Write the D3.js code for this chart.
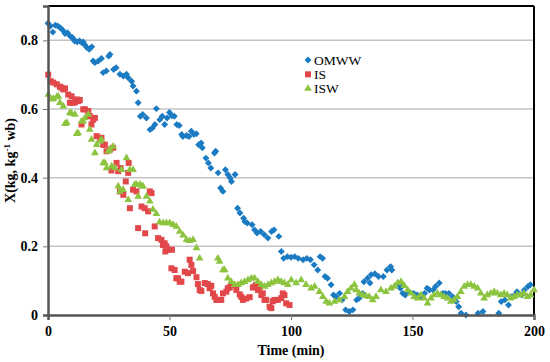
<!DOCTYPE html>
<html>
<head>
<meta charset="utf-8">
<script src="https://cdn.jsdelivr.net/npm/d3@7"></script>
<style>
  body { margin: 0; background: #fff; }
  text { font-family: "Liberation Serif", "Times New Roman", serif; }
  .bold { font-weight: bold; }
</style>
</head>
<body>
<div id="wrapper"></div>
<script>
// 1. Data (time in min, moisture X in kg/kg wb)

const seriesNames = ["OMWW", "IS", "ISW"];
const xTicks = [0, 50, 100, 150, 200];
const yTicks = [0, 0.2, 0.4, 0.6, 0.8];

const omww = [
  [0, .85], [1, .842], [2, .824], [3, .844], [4, .842], [5, .837], [6, .83], [7, .82], [8, .822],
  [9, .813], [10, .808], [10.5, .803], [11, .798], [12, .796], [13, .798], [14, .793], [14.5, .795],
  [15, .788], [16, .779], [17, .774], [18, .781], [18.6, .74], [19.3, .735], [20.7, .74], [22, .747],
  [22.7, .706], [24, .711], [25, .754], [25.5, .759], [27, .715], [28, .72], [29.6, .701], [31, .696],
  [32.3, .701], [33, .691], [34.4, .681], [35, .667], [36.4, .652], [37.1, .618], [38, .579], [39, .584],
  [40.5, .574], [42, .54], [43, .545], [44, .555], [44.6, .601], [46, .569], [47, .579], [48, .555],
  [49, .574], [50, .59], [51, .58], [52, .579], [53, .555], [54, .552], [55, .526], [55.5, .52],
  [57, .523], [58, .52], [59, .535], [60, .526], [61, .528], [62, .496], [63, .501], [63.5, .487],
  [65, .457], [66, .443], [67, .428], [68.5, .472], [69, .477], [70, .414], [71, .37], [72, .36],
  [73, .423], [74, .409], [75, .399], [75.5, .389], [77, .409], [78, .311], [79, .297], [80.5, .282],
  [81, .272], [82, .268], [84, .263], [85, .248], [86, .239], [87.5, .243], [89, .234], [90.5, .224],
  [92, .243], [93, .248], [95, .229], [96, .185], [97, .165], [98.5, .17], [100, .168], [101.5, .17],
  [103, .165], [105, .161], [106.5, .165], [108, .161], [109.5, .146], [111, .131], [112, .17],
  [113, .165], [114, .112], [115, .107], [116.5, .088], [117.5, .058], [118.5, .053], [120, .063],
  [121, .044], [122.5, .015], [124, .01], [125.5, .015], [127, .044], [128, .049], [129.5, .063],
  [130, .097], [131.5, .107], [132.5, .093], [133, .117], [134.5, .12], [136, .112], [138, .112],
  [139.5, .131], [141, .141], [141.5, .131], [144.5, .088], [145, .078], [146, .063], [147, .058],
  [148.5, .068], [150.5, .063], [152, .058], [153.5, .053], [155, .063], [156, .078], [157, .073],
  [158.5, .073], [159.5, .083], [161, .093], [162.5, .063], [163.5, .063], [165, .063], [166.5, .053],
  [168, .039], [169, .024], [170, .005], [172, 0], [177, .005], [179, .01], [185.5, .005],
  [186.5, .039], [188, .044], [189.5, .029], [190.5, .053], [192, .058], [193, .068], [195, .058],
  [196, .073], [197.5, .083], [198.5, .088]
];

const is = [
  [0.1, .70], [1.1, .681], [2.2, .677], [3.6, .672], [4.9, .665], [5.6, .662], [6.3, .657], [7, .66],
  [8.3, .642], [9, .618], [9.7, .637], [10.4, .618], [11.1, .62], [11.8, .628], [12.4, .623],
  [13.1, .626], [13.8, .555], [14.5, .599], [15.2, .599], [16.6, .594], [17.2, .579], [17.9, .555],
  [18.6, .569], [19.3, .574], [20, .521], [21.4, .516], [22, .516], [22.7, .496], [23.4, .496],
  [24.1, .477], [25.5, .482], [26.1, .421], [26.8, .487], [28.2, .443], [28.9, .419], [29.6, .36],
  [29.9, .428], [31, .35], [32, .389], [33, .414], [33.2, .443], [33.7, .311], [35, .365], [36.4, .36],
  [37.1, .253], [38.5, .316], [39.8, .311], [40, .238], [41.2, .302], [41.9, .36], [42.6, .355],
  [43.9, .258], [45.3, .224], [46.7, .219], [47.3, .204], [48, .209], [48.3, .185], [48.7, .2],
  [49.4, .19], [50.8, .136], [51, .19], [52.1, .131], [52.8, .107], [53.5, .107], [54.2, .097],
  [54.9, .097], [56.3, .126], [57.6, .122], [58.3, .161], [59, .146], [59.7, .128], [61.1, .11],
  [61.7, .09], [62.4, .073], [63.1, .07], [64.5, .093], [65.8, .09], [66.5, .078], [67.2, .085],
  [67.9, .063], [68.6, .053], [69.3, .044], [70, .044], [71.3, .044], [72, .063], [73.4, .068],
  [74, .078], [74.8, .08], [75.4, .088], [76.1, .088], [77.5, .073], [78.9, .06], [79.5, .053],
  [80.2, .044], [81.6, .048], [83, .052], [84.3, .08], [85, .083], [85.7, .088], [86.4, .073],
  [87.1, .08], [87.8, .058], [88.4, .063], [89.1, .044], [89.8, .044], [91.2, .024], [91.9, .02],
  [92.5, .04], [93.2, .044], [94.6, .044], [96, .049], [96.6, .063], [97.3, .058], [98, .034],
  [99.4, .029]
];

const isw = [
  [0.1, .642], [1.5, .628], [2.2, .63], [3.6, .635], [4.2, .637], [4.9, .618], [6.3, .608], [7, .557],
  [7.7, .56], [9, .589], [9.7, .587], [11.1, .584], [11.8, .528], [12.4, .53], [13.8, .564],
  [14.5, .564], [15.2, .574], [16.6, .584], [17.2, .54], [17.9, .511], [19.3, .472], [20, .496],
  [21.4, .506], [22, .511], [22.7, .443], [23.4, .443], [24.1, .428], [24.8, .477], [25.5, .482],
  [26.2, .433], [26.8, .491], [27.5, .428], [28.9, .375], [29.6, .36], [30.3, .423], [30.9, .365],
  [32.3, .457], [33, .336], [33.7, .423], [35, .423], [35.7, .38], [36.4, .38], [37.1, .345],
  [37.8, .38], [38.5, .375], [39.1, .375], [40.5, .345], [41.9, .331], [43.2, .307], [44.6, .295],
  [45.9, .27], [47.4, .268], [48.7, .268], [50.1, .268], [51.5, .263], [52.8, .258], [54.2, .243],
  [55.6, .232], [57, .219], [58.3, .216], [59.7, .219], [61.1, .195], [62.4, .165], [69.9, .165],
  [70.6, .156], [72, .131], [72.7, .131], [74, .107], [75.4, .097], [76.8, .088], [78.2, .088],
  [79.5, .093], [80.9, .097], [82.3, .102], [83.7, .107], [85, .107], [86.4, .097], [87.8, .088],
  [89.1, .083], [90.5, .088], [91.9, .093], [93.2, .097], [94.6, .102], [96, .097], [97.3, .093],
  [98.7, .088], [100.1, .102], [102.1, .093], [104.2, .102], [106.2, .088], [108.3, .078],
  [109.7, .083], [111.7, .068], [113.1, .053], [114.5, .039], [115.8, .034], [117.9, .039],
  [119.9, .044], [122, .053], [123.3, .068], [124.7, .078], [126.1, .088], [126.8, .073],
  [128.1, .063], [129.5, .058], [130.9, .055], [132.2, .053], [133.6, .044], [135, .053], [137, .073],
  [139.1, .068], [141.1, .078], [142.5, .083], [143.9, .093], [145.3, .097], [146.6, .085],
  [148, .073], [149.4, .063], [150.7, .053], [152.1, .049], [153.5, .058], [154.8, .049],
  [156.2, .034], [157.6, .049], [158.9, .058], [160.3, .063], [161.7, .058], [163, .053],
  [164.4, .049], [165.8, .039], [167.1, .044], [168.5, .053], [169.9, .068], [171.3, .083],
  [172.6, .088], [174, .088], [175.4, .083], [176.8, .078], [178.1, .063], [179.5, .049],
  [180.8, .058], [182.2, .063], [183.6, .068], [184.9, .063], [186.3, .058], [187.7, .063],
  [189, .058], [190.4, .049], [191.8, .053], [193.1, .058], [194.5, .058], [195.9, .063],
  [197.3, .053], [198.6, .058], [200, .073]
];

const xAccessor = (d) => d[0];
const yAccessor = (d) => d[1];

// 2. Dimensions

let dimensions = {
  width: 550,
  height: 362,
  margin: { top: 6, right: 16, bottom: 47, left: 48 },
};
dimensions.boundedWidth =
  dimensions.width - dimensions.margin.left - dimensions.margin.right;
dimensions.boundedHeight =
  dimensions.height - dimensions.margin.top - dimensions.margin.bottom;

// 3. Canvas

const wrapper = d3
  .select("#wrapper")
  .append("svg")
  .attr("width", dimensions.width)
  .attr("height", dimensions.height);

const bounds = wrapper
  .append("g")
  .attr("transform", `translate(${dimensions.margin.left}, ${dimensions.margin.top})`);

// 4. Scales

const xScale = d3.scaleLinear().domain([0, 200]).range([0, dimensions.boundedWidth]);
const yScale = d3.scaleLinear().domain([0, 0.9]).range([dimensions.boundedHeight, 0]);

// gridlines
bounds
  .append("g")
  .selectAll("line")
  .data(yTicks.filter((d) => d > 0))
  .join("line")
  .attr("x1", 0)
  .attr("x2", dimensions.boundedWidth)
  .attr("y1", (d) => yScale(d))
  .attr("y2", (d) => yScale(d))
  .attr("stroke", "#c4c4c4")
  .attr("stroke-width", 1.5);

// top & right border
bounds.append("line")
  .attr("x1", 0).attr("x2", dimensions.boundedWidth)
  .attr("y1", 0).attr("y2", 0)
  .attr("stroke", "#000").attr("stroke-width", 2);
bounds.append("line")
  .attr("x1", dimensions.boundedWidth).attr("x2", dimensions.boundedWidth)
  .attr("y1", 0).attr("y2", dimensions.boundedHeight)
  .attr("stroke", "#000").attr("stroke-width", 2);

// 5. Data marks

const colors = { OMWW: "#1b7bc2", IS: "#e2474a", ISW: "#8cc43f" };
const symbols = {
  OMWW: d3.symbol().type(d3.symbolSquare).size(24),
  IS: d3.symbol().type(d3.symbolSquare).size(36),
  ISW: d3.symbol().type(d3.symbolTriangle).size(26),
};
const rotations = { OMWW: 45, IS: 0, ISW: 0 };
const seriesData = { OMWW: omww, IS: is, ISW: isw };

seriesNames.forEach((name) => {
  bounds
    .append("g")
    .selectAll("path")
    .data(seriesData[name])
    .join("path")
    .attr("d", symbols[name])
    .attr("transform", (d) =>
      `translate(${xScale(xAccessor(d))}, ${yScale(yAccessor(d))}) rotate(${rotations[name]})`)
    .attr("fill", colors[name]);
});

// 6. Axes

const xAxisGenerator = d3.axisBottom(xScale).tickValues(xTicks).tickSize(5).tickPadding(6);
const xAxis = bounds
  .append("g")
  .attr("transform", `translate(0, ${dimensions.boundedHeight})`)
  .call(xAxisGenerator);

const yAxisGenerator = d3
  .axisLeft(yScale)
  .tickValues(yTicks)
  .tickSize(5)
  .tickPadding(5)
  .tickFormat((d) => (d === 0 ? "0" : d3.format(".1f")(d)));
const yAxis = bounds.append("g").call(yAxisGenerator);

[xAxis, yAxis].forEach((axis) => {
  axis.attr("font-family", null);
  axis.select(".domain").attr("stroke", "#555").attr("stroke-width", 2.5);
  axis.selectAll(".tick line").attr("stroke", "#777").attr("stroke-width", 1);
  axis.selectAll(".tick text")
    .attr("class", "bold")
    .attr("fill", "#000")
    .style("font-size", "14px");
});
xAxis.selectAll(".tick line").filter((d) => d === 0).remove();
yAxis.selectAll(".tick line").filter((d) => d === 0).remove();

xAxis
  .append("text")
  .attr("class", "bold")
  .attr("x", xScale(100))
  .attr("y", 40)
  .attr("text-anchor", "middle")
  .attr("fill", "#000")
  .style("font-size", "14px")
  .text("Time (min)");

const yLabel = wrapper
  .append("text")
  .attr("class", "bold")
  .attr("transform", `translate(15, ${dimensions.margin.top + dimensions.boundedHeight / 2}) rotate(-90)`)
  .attr("text-anchor", "middle")
  .attr("fill", "#000")
  .style("font-size", "14px");
yLabel.append("tspan").text("X(kg, kg");
yLabel.append("tspan").attr("dy", -5).style("font-size", "9px").text("-1");
yLabel.append("tspan").attr("dy", 5).text(" wb)");

// legend
const legend = wrapper.append("g").attr("transform", "translate(308, 60)");
seriesNames.forEach((name, i) => {
  const row = legend.append("g").attr("transform", `translate(0, ${i * 14.3})`);
  row.append("path")
    .attr("d", symbols[name])
    .attr("transform", `rotate(${rotations[name]})`)
    .attr("fill", colors[name]);
  row.append("text")
    .attr("x", 6)
    .attr("y", 4.5)
    .attr("fill", "#000")
    .style("font-size", "13.5px")
    .text(name);
});
</script>
</body>
</html>
